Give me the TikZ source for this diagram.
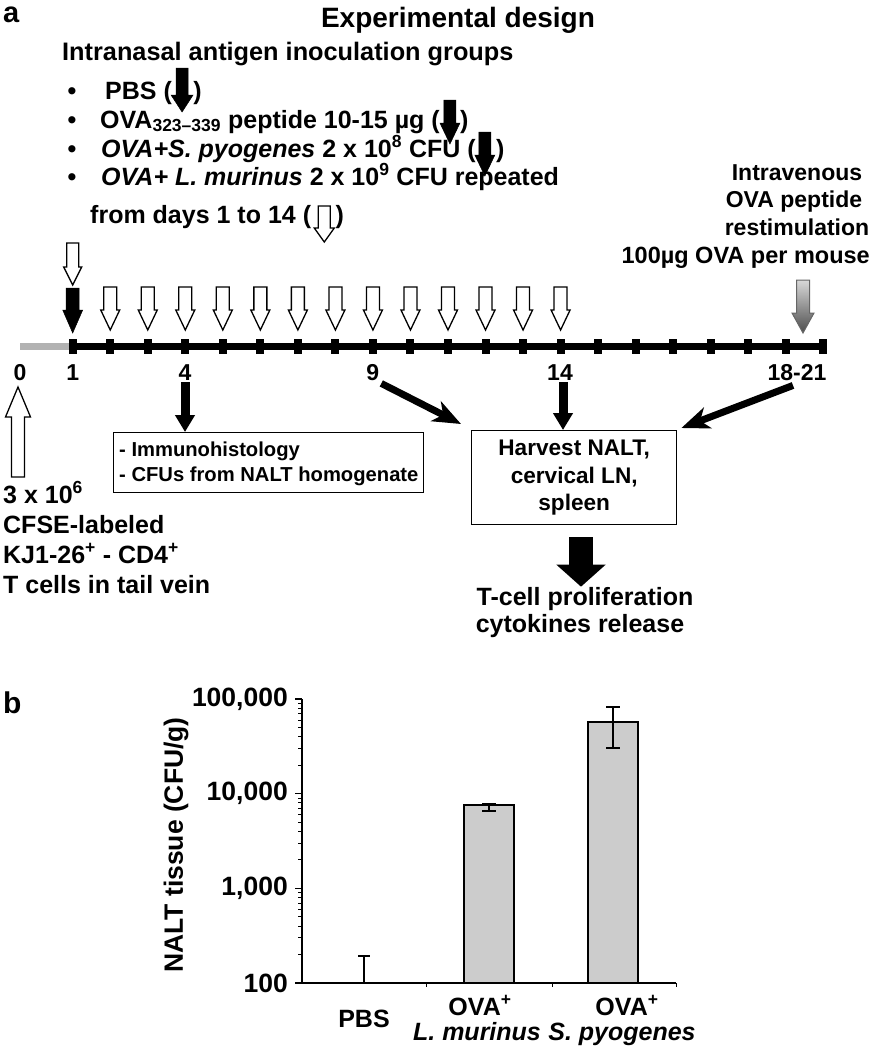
\documentclass[tikz,border=0pt]{standalone}
\usepackage{fontspec}
\setmainfont{Liberation Sans}
\usetikzlibrary{arrows.meta,calc}
\newcommand{\fsz}[2]{\fontsize{#1}{#2}\selectfont}
\tikzset{
  pics/blockarrow/.style n args={4}{code={%
    \path[pic actions] ({-#2},0) -- ({#2},0) -- ({#2},{#1-#4}) -- ({#3},{#1-#4}) -- (0,{#1}) -- ({-#3},{#1-#4}) -- ({-#2},{#1-#4}) -- cycle;}},
  txt/.style={inner sep=0pt, font=\bfseries\fsz{25}{28}},
  daylbl/.style={inner sep=2pt, anchor=base, font=\bfseries\fsz{23}{27}},
  hollow/.style={draw=black, line width=1.3pt, fill=white, line join=miter},
  solidarr/.style={draw=black, line width=0.5pt, fill=black},
  thickarrow/.style={line width=7pt, -{Stealth[length=28pt,width=22pt,inset=8pt]}},
  droparrow/.style={line width=9pt, -{Triangle[length=17pt,width=19pt]}},
  box/.style={draw=black, line width=1.4pt},
  axis/.style={line width=1.4pt},
  bar/.style={draw=black, line width=1.4pt, fill=black!20},
  errbar/.style={line width=1.4pt},
  chartlbl/.style={inner sep=0pt, font=\bfseries\fsz{25}{28}}
}
\begin{document}
\begin{tikzpicture}[x=1pt,y=-1pt]
\useasboundingbox (0,0) rectangle (881,1050);

% ---------- panel a header ----------
\node[inner sep=0pt, anchor=base west, font=\bfseries\fsz{29}{32}] (lbla) at (3,22) {a};
\node[inner sep=0pt, anchor=base, font=\bfseries\fsz{28}{32}] (title) at (458,27) {Experimental design};
\node[txt, anchor=base west, font=\bfseries\fsz{25.3}{28}] (intra) at (62,60) {Intranasal antigen inoculation groups};

\node[txt, anchor=base] (bu1) at (72,99) {•};
\node[txt, anchor=base] (bu2) at (72,128) {•};
\node[txt, anchor=base] (bu3) at (72,157) {•};
\node[txt, anchor=base] (bu4) at (72,185) {•};

\node[txt, anchor=base west] (pbsA) at (105,99) {PBS (};
\node[txt, anchor=base west] (pbsB) at ($(pbsA.base east)+(21,0)$) {)};
\pic[solidarr] at ($(pbsA.base east)+(10,-31)$) {blockarrow={44}{6}{11}{17}};

\node[txt, anchor=base west] (ovaA) at (100,128) {OVA\textsubscript{323–339} peptide 10-15 µg (};
\node[txt, anchor=base west] (ovaB) at ($(ovaA.base east)+(20,0)$) {)};
\pic[solidarr] at ($(ovaA.base east)+(10,-28)$) {blockarrow={44}{6}{10}{21}};

\node[txt, anchor=base west] (spyA) at (101,157) {\textit{OVA+S. pyogenes} 2 x 10\textsuperscript{8} CFU (};
\node[txt, anchor=base west] (spyB) at ($(spyA.base east)+(20,0)$) {)};
\pic[solidarr] at ($(spyA.base east)+(9,-25)$) {blockarrow={44}{6}{10}{21}};

\node[txt, anchor=base west] (lmur) at (101,185) {\textit{OVA+ L. murinus} 2 x 10\textsuperscript{9} CFU repeated};
\node[txt, anchor=base west] (fromA) at (90,223) {from days 1 to 14 (};
\node[txt, anchor=base west] (fromB) at ($(fromA.base east)+(24,0)$) {)};
\pic[hollow] at ($(fromA.base east)+(13,-17)$) {blockarrow={36}{6}{10}{14}};

% ---------- restimulation text ----------
\node[txt, anchor=base, font=\bfseries\fsz{23}{27}] (iv1) at (797,180) {Intravenous};
\node[txt, anchor=base, font=\bfseries\fsz{23}{27}] (iv2) at (794,207) {OVA peptide};
\node[txt, anchor=base, font=\bfseries\fsz{23}{27}] (iv3) at (797,235) {restimulation};
\node[txt, anchor=base east, font=\bfseries\fsz{23.5}{27}] (iv4) at (870,263) {100µg OVA per mouse};

% ---------- timeline ----------
\coordinate (t0) at (20,346);
\coordinate (t1) at (72.7,346);
\coordinate (tend) at (823.3,346);
\draw[line width=7pt, color=black!30] (t0) -- (t1);
\draw[line width=7pt] (t1) -- (tend);
\foreach \k in {0,...,20} {
  \pgfmathsetmacro{\xx}{72.7+37.53*\k}
  \fill ({\xx-4},339) rectangle ({\xx+4},354);
}
\foreach \k in {1,...,13} {
  \pgfmathsetmacro{\xx}{72.7+37.53*\k}
  \pic[hollow] at (\xx,287) {blockarrow={43}{6.5}{9.5}{20}};
}
\pic[hollow] at (72.7,243) {blockarrow={42}{6}{9}{18}};
\pic[solidarr] at (72.7,288) {blockarrow={45}{6.5}{10}{23}};
\pic[draw=black!60, line width=1pt, top color=black!15, bottom color=black!70] at (803,280) {blockarrow={53}{6.5}{11}{20}};

\node[daylbl] (d0) at (20,380) {0};
\node[daylbl] (d1) at (72.7,380) {1};
\node[daylbl] (d4) at (185,380) {4};
\node[daylbl] (d9) at (372.7,380) {9};
\node[daylbl] (d14) at (560,380) {14};
\node[daylbl] (d1821) at (797,380) {18-21};

% ---------- below timeline ----------
\node[txt, anchor=base west] (c1) at (3,503) {3 x 10\textsuperscript{6}};
\node[txt, anchor=base west] (c2) at (3,533) {CFSE-labeled};
\node[txt, anchor=base west] (c3) at (3,563) {KJ1-26\textsuperscript{+} - CD4\textsuperscript{+}};
\node[txt, anchor=base west] (c4) at (3,593) {T cells in tail vein};
\pic[hollow] at (18,477) {blockarrow={-90}{6.5}{12.5}{-30}};

\node[box, anchor=north west, minimum width=310pt, minimum height=60pt] (box1) at (113,432) {};
\node[inner sep=0pt, anchor=base west, font=\bfseries\fsz{20.2}{25}] (box1a) at (119,456) {- Immunohistology};
\node[inner sep=0pt, anchor=base west, font=\bfseries\fsz{20.2}{25}] (box1b) at (119,481) {- CFUs from NALT homogenate};
\node[box, anchor=north west, minimum width=205pt, minimum height=94pt, align=center, font=\bfseries\fsz{22.6}{27.5}] (harvest) at (471,430) {Harvest NALT,\\cervical LN,\\spleen};

\draw[droparrow] (d4.south) -- (d4.south |- box1.north);
\draw[droparrow] ($(d14.south)+(3,0)$) -- ($(d14.south |- harvest.north)+(3,0)$);
\draw[thickarrow] ($(d9.south east)+(0,1)$) -- ($(harvest.north west)+(-10,-6)$);
\draw[thickarrow] ($(d1821.south)+(-4,3)$) -- ($(harvest.north east)+(4,-2)$);

\node[txt, anchor=base] (tc1) at (585,605) {T-cell proliferation};
\node[txt, anchor=base] (tc2) at (580,632) {cytokines release};
\coordinate (bigA) at (581,537);
\draw[line width=24pt, -{Triangle[length=22pt,width=48pt]}] (bigA) -- (bigA |- tc1.north);

% ---------- panel b ----------
\node[inner sep=0pt, anchor=base west, font=\bfseries\fsz{30}{32}] (lblb) at (3,713) {b};

\coordinate (orig) at (302,983);
\coordinate (ytop) at (302,699);
\coordinate (xend) at (676,983);
\draw[axis] (ytop) -- (orig) -- (xend);
\foreach \d in {0,1,2} {
  \foreach \k in {2,...,9} {
    \pgfmathsetmacro{\yy}{983-(\d+log10(\k))*94.67}
    \draw[line width=1pt] (298,\yy) -- (302,\yy);
  }
}
\foreach \yy in {699,793.7,888.3,983} { \draw[axis] (295,\yy) -- (302,\yy); }
\foreach \xx in {426,552,676} { \draw[line width=1pt] (\xx,983) -- (\xx,987); }

\node[chartlbl, anchor=east, font=\bfseries\fsz{26.5}{28}] (yl5) at (288,699) {100,000};
\node[chartlbl, anchor=east, font=\bfseries\fsz{26.5}{28}] (yl4) at (288,793.7) {10,000};
\node[chartlbl, anchor=east, font=\bfseries\fsz{26.5}{28}] (yl3) at (288,888.3) {1,000};
\node[chartlbl, anchor=east, font=\bfseries\fsz{26.5}{28}] (yl2) at (288,983) {100};
\node[chartlbl, rotate=90, font=\bfseries\fsz{26.5}{28}] (ylab) at (176,845) {NALT tissue (CFU/g)};

\draw[bar] (464,983) rectangle (514,805);
\draw[bar] (588,983) rectangle (638,722);
\draw[errbar] (364,983) -- (364,956) (358,956) -- (370,956);
\draw[errbar] (489,804) -- (489,811) (482,804) -- (496,804) (482,811) -- (496,811);
\draw[errbar] (613,707) -- (613,748) (606,707) -- (620,707) (606,748) -- (620,748);
\draw[axis] (orig) -- (xend);

\node[chartlbl, anchor=base] (xl1) at (364,1027) {PBS};
\node[chartlbl, anchor=base] (xl2a) at (480,1015) {OVA\textsuperscript{+}};
\node[chartlbl, anchor=base] (xl2b) at (477,1040) {\textit{L. murinus}};
\node[chartlbl, anchor=base] (xl3a) at (627,1015) {OVA\textsuperscript{+}};
\node[chartlbl, anchor=base] (xl3b) at (622,1040) {\textit{S. pyogenes}};
\end{tikzpicture}
\end{document}
